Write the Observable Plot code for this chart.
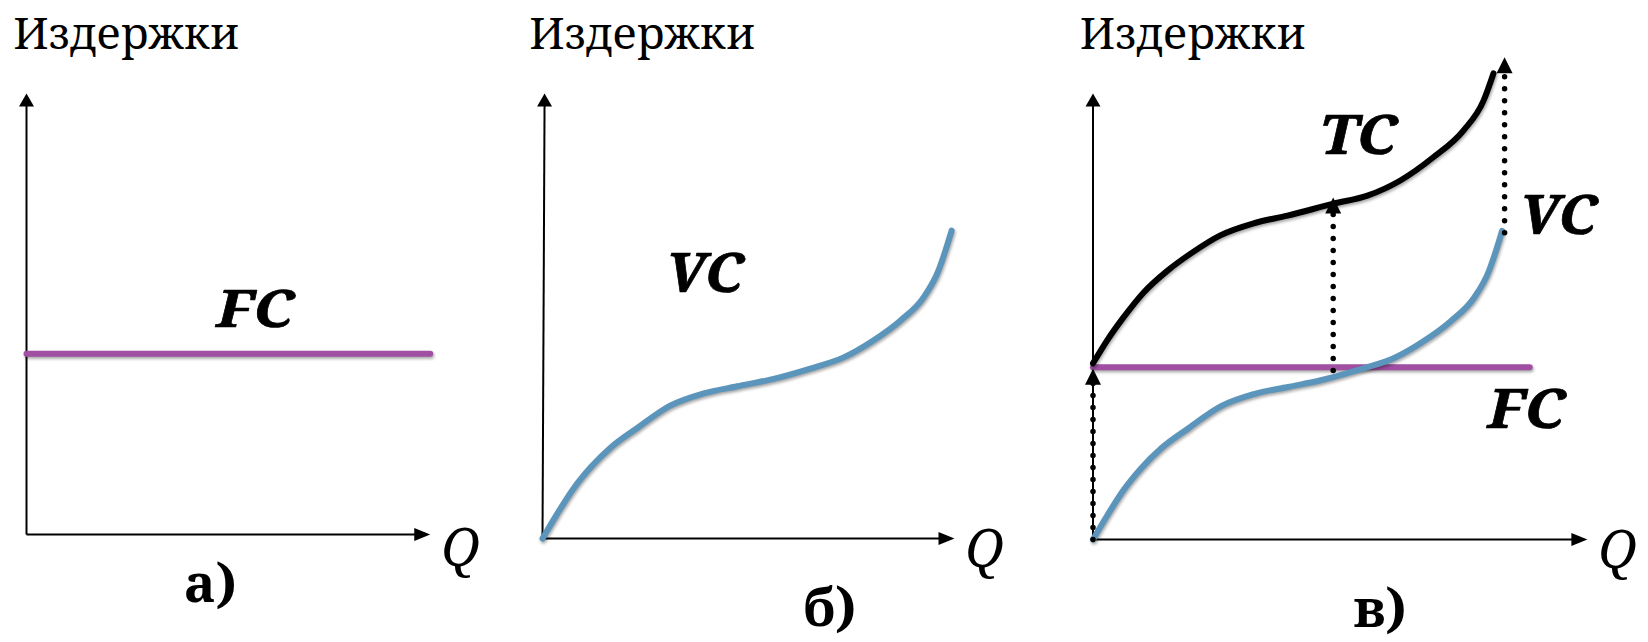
<!DOCTYPE html>
<html><head><meta charset="utf-8">
<script src="https://cdn.jsdelivr.net/npm/d3@7"></script>
<script src="https://cdn.jsdelivr.net/npm/@observablehq/plot@0.6"></script>
<style>
body{margin:0;background:#fff;}
#wrap{display:flex;width:1648px;height:642px;overflow:hidden;}
#wrap svg{overflow:visible;display:block;}
#wrap svg text{font-family:'Noto Serif','Liberation Serif','DejaVu Serif',serif !important;}
</style></head><body><div id="wrap"></div>
<script>
// ---- data ----
const vcQ    = [0, 0.36, 0.75, 1.17, 1.65, 2.31, 3.11, 3.91, 4.73, 5.53, 6.50, 7.31, 8.03, 8.69, 9.25, 9.61, 9.78, 9.93];
const vcCost = [0, 0.56, 1.12, 1.60, 2.04, 2.49, 2.99, 3.26, 3.42, 3.57, 3.82, 4.07, 4.45, 4.90, 5.42, 6.02, 6.47, 6.92];
const tcQ    = [0, 0.34, 0.74, 1.23, 1.81, 2.37, 3.09, 3.90, 4.72, 5.84, 6.66, 7.46, 8.26, 8.99, 9.48, 9.72];
const tcCost = [3.95, 4.46, 4.98, 5.54, 6.03, 6.41, 6.82, 7.09, 7.26, 7.53, 7.71, 8.05, 8.57, 9.17, 9.84, 10.45];
const fcQa = [0, 9.8];      const fcLevelA = 4.1;
const fcQc = [0, 10.6];     const fcLevelC = 3.86;
const axisEnds = [9.8, 10, 12];          // Q-axis length per panel
const costTitle = "Издержки";
const qTitle = "Q";
const panelLabels = ["а)", "б)", "в)"];
const curveNames = ["FC", "VC", "TC"];
// dotted arrows in panel в): [Q, from cost, to cost]
const arrowQ    = [0, 5.83, 9.99];
const arrowFrom = [0, 3.79, 6.88];
const arrowTo   = [3.83, 7.67, 10.81];

const vc = vcQ.map((q, i) => ({q, c: vcCost[i]}));
const tc = tcQ.map((q, i) => ({q, c: tcCost[i]}));
const fcA = fcQa.map(q => ({q, c: fcLevelA}));
const fcC = fcQc.map(q => ({q, c: fcLevelC}));

const PURPLE = "#a04fa2", BLUE = "#5b95bc";
const SERIF = "Noto Serif";

function arrowHead(w, h) {
  return {draw(ctx) { ctx.moveTo(0, 0); ctx.lineTo(w / 2, h); ctx.lineTo(-w / 2, h); ctx.closePath(); }};
}

function axes(xEnd, yTopX = 0) {
  return [
    Plot.link([0], {x1: 0, y1: 0, x2: xEnd - 0.2, y2: 0, stroke: "black", strokeWidth: 2}),
    Plot.link([0], {x1: 0, y1: 0, x2: yTopX, y2: 9.8, stroke: "black", strokeWidth: 2}),
    Plot.dot([0], {x: xEnd, y: 0, symbol: arrowHead(13, 16), rotate: 90, fill: "black", stroke: "none"}),
    Plot.dot([0], {x: yTopX, y: 10, symbol: arrowHead(15, 13), fill: "black", stroke: "none"})
  ];
}

function titleMarks(xEnd, qDy) {
  return [
    Plot.text([costTitle], {x: -0.32, y: 10, dy: -45, text: d => d, textAnchor: "start", lineAnchor: "bottom",
      fontFamily: SERIF, fontSize: 44, fill: "black"}),
    Plot.text([qTitle], {x: xEnd + 0.27, y: 0, dy: qDy, text: d => d, textAnchor: "start", lineAnchor: "bottom",
      fontFamily: SERIF, fontStyle: "italic", fontSize: 52, fill: "black"})
  ];
}

const boldIt = {fontFamily: SERIF, fontStyle: "italic", fontWeight: "bold", fontSize: 54, fill: "black",
  stroke: "black", strokeWidth: 0.7, textAnchor: "start", lineAnchor: "bottom"};
const bold = {fontFamily: SERIF, fontWeight: "bold", fontSize: 53, fill: "black", textAnchor: "start", lineAnchor: "bottom"};

function panel({width, ox, oy, top, marks}) {
  return Plot.plot({
    width, height: 642, margin: 0,
    x: {domain: [0, 10], range: [ox, ox + 412], axis: null},
    y: {domain: [0, 10], range: [oy, top], axis: null},
    style: {background: "white", overflow: "visible"},
    marks
  });
}

const pa = panel({width: 520, ox: 26, oy: 534, top: 93, marks: [
  ...axes(axisEnds[0]),
  Plot.line(fcA, {x: "q", y: "c", stroke: PURPLE, strokeWidth: 6}),
  Plot.text([curveNames[0]], {x: 4.61, y: fcLevelA, dy: -27, text: d => d, ...boldIt, fontSize: 51}),
  Plot.text([panelLabels[0]], {x: 3.83, y: 0, dy: 67, text: d => d, ...bold}),
  ...titleMarks(axisEnds[0], 31)
]});

const pb = panel({width: 550, ox: 22, oy: 538, top: 93, marks: [
  ...axes(axisEnds[1], 0.05),
  Plot.line(vc, {x: "q", y: "c", stroke: BLUE, strokeWidth: 6, curve: "monotone-x"}),
  Plot.text([curveNames[1]], {x: 3.0, y: 5.53, text: d => d, ...boldIt}),
  Plot.text([panelLabels[1]], {x: 6.33, y: 0, dy: 87, text: d => d, ...bold}),
  ...titleMarks(axisEnds[1], 28)
]});

const pc = panel({width: 578, ox: 22.5, oy: 539, top: 93, marks: [
  ...axes(axisEnds[2]),
  Plot.line(fcC, {x: "q", y: "c", stroke: PURPLE, strokeWidth: 6}),
  Plot.line(vc, {x: "q", y: "c", stroke: BLUE, strokeWidth: 6, curve: "monotone-x"}),
  Plot.line(tc, {x: "q", y: "c", stroke: "black", strokeWidth: 6, curve: "monotone-x"}),
  Plot.link(arrowQ, {x1: d => d, x2: d => d, y1: (d, i) => arrowFrom[i], y2: (d, i) => arrowTo[i] - 0.3,
    stroke: "black", strokeWidth: 5.5, strokeDasharray: "0 12", strokeLinecap: "round"}),
  Plot.dot(arrowQ, {x: d => d, y: (d, i) => arrowTo[i], symbol: arrowHead(16, 16), fill: "black", stroke: "none"}),
  Plot.text([curveNames[2]], {x: 5.5, y: 8.65, text: d => d, ...boldIt}),
  Plot.text([curveNames[1]], {x: 10.36, y: 6.84, text: d => d, ...boldIt}),
  Plot.text([curveNames[0]], {x: 9.58, y: 2.49, text: d => d, ...boldIt}),
  Plot.text([panelLabels[2]], {x: 6.32, y: 0, dy: 87, text: d => d, ...bold}),
  ...titleMarks(axisEnds[2], 28)
]});

for (const p of [pa, pb, pc]) {
  const s = d3.select(p);
  s.selectAll('g[aria-label="line"]').style("filter", "drop-shadow(1.5px 2.5px 1.5px rgba(0,0,0,0.35))");
  // widen the bold-italic curve names to the reference proportions
  s.selectAll("text").filter(function() { return curveNames.includes(this.textContent); })
    .attr("textLength", 77).attr("lengthAdjust", "spacingAndGlyphs");
  document.getElementById("wrap").appendChild(p);
}
</script></body></html>
